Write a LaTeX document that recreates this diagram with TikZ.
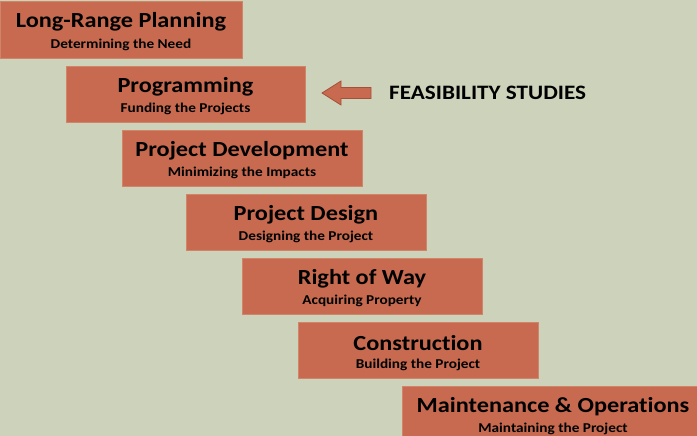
\documentclass[tikz,border=0pt]{standalone}
\usepackage{fontspec}
\setmainfont{Carlito}[FakeStretch=1.13, Ligatures={NoCommon,NoRare,NoContextual}]
\definecolor{bg}{HTML}{CDD3BB}
\definecolor{boxc}{HTML}{C76A50}
\definecolor{boxedge}{HTML}{D08468}
\definecolor{arredge}{HTML}{A55039}
\tikzset{
  stage/.style={fill=boxc, draw=boxedge, line width=0.6pt},
  ttl/.style={font=\bfseries\fontsize{21.5}{24}\selectfont, text=black, inner sep=0pt},
  sub/.style={font=\bfseries\fontsize{13.5}{15}\selectfont, text=black, inner sep=0pt},
}
\begin{document}
\begin{tikzpicture}[x=1pt,y=-1pt]
\useasboundingbox (0,0) rectangle (697,436);
\clip (0,0) rectangle (697,436);
\fill[bg] (0,0) rectangle (697,436);
% boxes
\draw[stage] (0,1) rectangle (242,58);
\draw[stage] (66,66) rectangle (305,122);
\draw[stage] (122,130) rectangle (362,186);
\draw[stage] (186,194) rectangle (426,250);
\draw[stage] (242,258) rectangle (482,314);
\draw[stage] (298,322) rectangle (538,378);
\draw[stage] (402,386) rectangle (710,445);
% texts
\node[ttl] (t1) at (121,22) {Long-Range Planning};
\node[sub] (s1) at (121,45) {Determining the Need};
\node[ttl] (t2) at (185.5,87) {Programming};
\node[sub] (s2) at (185.5,109) {Funding the Projects};
\node[ttl] (t3) at (242,151) {Project Development};
\node[sub] (s3) at (242,173) {Minimizing the Impacts};
\node[ttl] (t4) at (306,215) {Project Design};
\node[sub] (s4) at (306,237) {Designing the Project};
\node[ttl] (t5) at (362,279) {Right of Way};
\node[sub] (s5) at (362,301) {Acquiring Property};
\node[ttl] (t6) at (418,343) {Construction};
\node[sub] (s6) at (418,365) {Building the Project};
\node[ttl] (t7) at (553,407) {Maintenance \& Operations};
\node[sub] (s7) at (553,429) {Maintaining the Project};
% arrow and label
\coordinate (arr) at (346.5,93);
\filldraw[fill=boxc, draw=arredge, line width=0.8pt]
  (322,93) -- (341,81) -- (341,87.5) -- (371,87.5) -- (371,98.5) -- (341,98.5) -- (341,105) -- cycle;
\node[font=\bfseries\fontsize{20.5}{22}\selectfont, inner sep=0pt, anchor=west] (fs) at (389,93) {FEASIBILITY STUDIES};
\end{tikzpicture}
\end{document}
